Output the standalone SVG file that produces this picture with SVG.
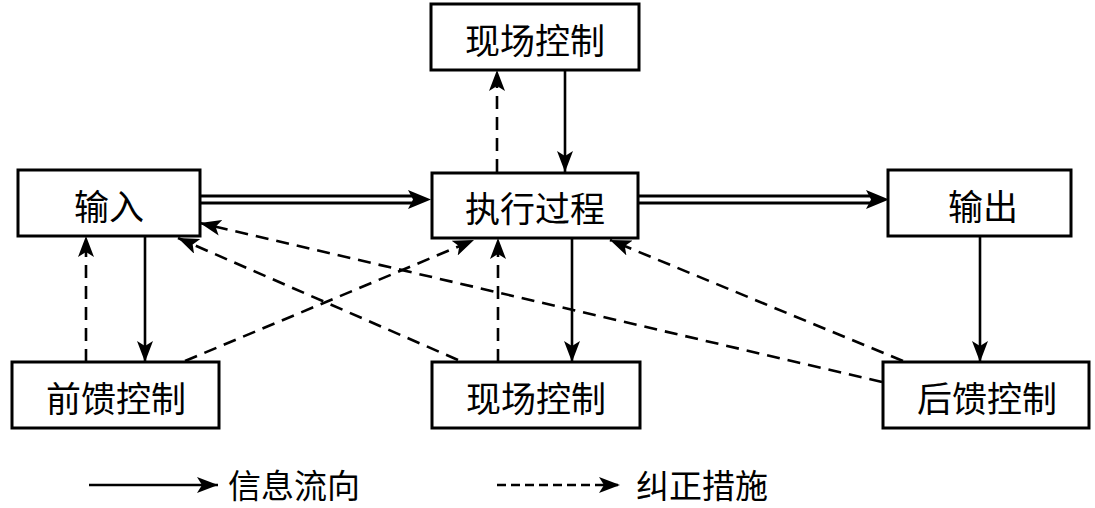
<svg xmlns="http://www.w3.org/2000/svg" width="1095" height="508" viewBox="0 0 1095 508">
<style>
.box{fill:#fff;stroke:#000;stroke-width:3}
.lbl{font-family:"Noto Sans CJK SC","Liberation Sans",sans-serif;font-size:35px;fill:#000;text-anchor:middle;dominant-baseline:central}
.leg{font-family:"Noto Sans CJK SC","Liberation Sans",sans-serif;font-size:33px;fill:#000;dominant-baseline:central}
.s{stroke:#000;stroke-width:2.6;fill:none;marker-end:url(#ah)}
.d{stroke:#000;stroke-width:2.6;fill:none;stroke-dasharray:13 8;marker-end:url(#ah)}
</style>
<defs>
<marker id="ah" viewBox="0 0 21 16" refX="21" refY="8" markerWidth="21" markerHeight="16" orient="auto" markerUnits="userSpaceOnUse">
<path d="M0,0 L21,8 L0,16 L5,8 Z" fill="#000" stroke="none"/>
</marker>
</defs>
<g id="connectors">
<path d="M200,199.5 H412" stroke="#000" stroke-width="10" fill="none"/>
<path d="M200,199.5 H414" stroke="#fff" stroke-width="4" fill="none"/>
<path d="M408,190 L431,199.5 L408,209 L413,199.5 Z" fill="#000"/>
<path d="M638,199.5 H870" stroke="#000" stroke-width="10" fill="none"/>
<path d="M638,199.5 H872" stroke="#fff" stroke-width="4" fill="none"/>
<path d="M866,190 L889,199.5 L866,209 L871,199.5 Z" fill="#000"/>
<line class="s" x1="565" y1="70" x2="565" y2="172"/>
<line class="d" x1="497" y1="172" x2="497" y2="70"/>
<line class="s" x1="145" y1="236" x2="145" y2="362"/>
<line class="d" x1="86" y1="362" x2="86" y2="236"/>
<line class="d" x1="185" y1="361" x2="474" y2="240"/>
<line class="s" x1="572" y1="238" x2="572" y2="362"/>
<line class="d" x1="498" y1="362" x2="498" y2="238"/>
<line class="d" x1="458" y1="360" x2="178" y2="238"/>
<line class="d" x1="882" y1="382" x2="200" y2="223"/>
<line class="d" x1="903" y1="361" x2="610" y2="240"/>
<line class="s" x1="980" y1="237" x2="980" y2="362"/>
</g>
<g id="n-top"><rect class="box" x="431" y="4" width="208" height="66"/><text class="lbl" x="535" y="38">现场控制</text></g>
<g id="n-exec"><rect class="box" x="432" y="173" width="206" height="65"/><text class="lbl" x="535" y="206">执行过程</text></g>
<g id="n-in"><rect class="box" x="18" y="170" width="182" height="66"/><text class="lbl" x="109" y="204">输入</text></g>
<g id="n-out"><rect class="box" x="888" y="170" width="183" height="66"/><text class="lbl" x="983" y="204">输出</text></g>
<g id="n-ff"><rect class="box" x="12" y="362" width="207" height="66"/><text class="lbl" x="116" y="396">前馈控制</text></g>
<g id="n-site"><rect class="box" x="432" y="362" width="208" height="66"/><text class="lbl" x="536" y="396">现场控制</text></g>
<g id="n-fb"><rect class="box" x="883" y="362" width="206" height="66"/><text class="lbl" x="987" y="396">后馈控制</text></g>
<g id="legend">
<line class="s" x1="89" y1="485" x2="218" y2="485"/>
<text class="leg" x="228" y="484">信息流向</text>
<line class="d" x1="497" y1="485" x2="620" y2="485" style="stroke-dasharray:9 5"/>
<text class="leg" x="636" y="484">纠正措施</text>
</g>
</svg>
